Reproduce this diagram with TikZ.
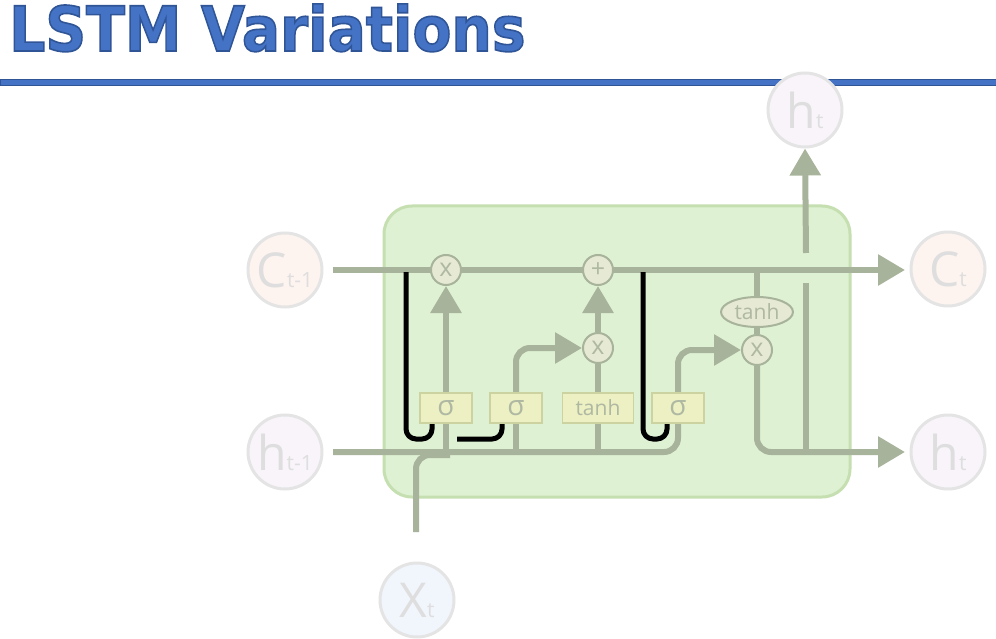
\documentclass[tikz,border=0pt]{standalone}
\usepackage{fontspec}
\setmainfont{Open Sans}
\newfontfamily\titlefont{DejaVu Sans}
\usetikzlibrary{arrows.meta,shapes.geometric}
\pgfdeclarelayer{boxlayer}
\pgfdeclarelayer{linelayer}
\pgfsetlayers{boxlayer,linelayer,main}
\definecolor{lineC}{HTML}{A7B39A}
\definecolor{cellFill}{HTML}{DFF1D3}
\definecolor{cellBorder}{HTML}{C5DFB1}
\definecolor{gateFill}{HTML}{EDF0C2}
\definecolor{gateBorder}{HTML}{CDD3A0}
\definecolor{gateText}{HTML}{AEB8A2}
\definecolor{opFill}{HTML}{E6E9D3}
\definecolor{lblText}{HTML}{DEDEDE}
\definecolor{lblBorder}{HTML}{E4E4E4}
\definecolor{cFill}{HTML}{FDF3EF}
\definecolor{hFill}{HTML}{F8F4FA}
\definecolor{xFill}{HTML}{F1F5FC}
\definecolor{titleBlue}{HTML}{4472C4}
\definecolor{titleDark}{HTML}{2F5597}
\tikzset{
  flow/.style={draw=lineC, line width=6pt},
  arr/.style={flow, -{Triangle[width=30pt,length=27pt]}},
  gatebox/.style={draw=gateBorder, line width=1.5pt, fill=gateFill, minimum height=30pt, inner sep=0pt, text=gateText, font=\fontsize{28}{28}\selectfont},
  opnode/.style={circle, draw=lineC, line width=2pt, fill=opFill, minimum size=30pt, inner sep=0pt, text=gateText, font=\fontsize{25}{25}\selectfont},
  ionode/.style={circle, draw=lblBorder, line width=3pt, minimum size=74pt, inner sep=0pt, text=lblText},
  peep/.style={draw=black, line width=5pt, rounded corners=10pt},
  ttl/.style={anchor=base west, inner sep=0pt, font=\titlefont\bfseries\fontsize{62}{62}\selectfont}
}
\newcommand{\iolbl}[2]{{\fontsize{48}{48}\selectfont #1}{\fontsize{21}{21}\selectfont #2}}
\begin{document}
\begin{tikzpicture}[x=1pt,y=-1pt]
\useasboundingbox (0,0) rectangle (996,639);
% title
\node[ttl, text=titleBlue] (title) at (9,51) {\special{pdf:literal direct 2 Tr 1.6 w 0.184 0.333 0.592 RG}\scalebox{0.915}[1]{LSTM Variations}\special{pdf:literal direct 0 Tr}};
\begin{pgfonlayer}{boxlayer}
\fill[titleBlue, draw=titleDark, line width=1pt] (0,80) rectangle (996,86);
\draw[fill=cellFill, draw=cellBorder, line width=3pt, rounded corners=28pt] (384,206) rectangle (850,497);
\end{pgfonlayer}
% outer nodes
\node[ionode, fill=cFill] (cin) at (285,270) {\iolbl{C}{t-1}};
\node[ionode, fill=hFill] (hin) at (285,452) {\iolbl{h}{t-1}};
\node[ionode, fill=cFill] (cout) at (948,269) {\iolbl{C}{t}};
\node[ionode, fill=hFill] (hout) at (948,452) {\iolbl{h}{t}};
\node[ionode, fill=hFill] (htop) at (805,110) {\iolbl{h}{t}};
\node[ionode, fill=xFill] (xin) at (417,600) {\iolbl{X}{t}};
% gates
\node[gatebox, minimum width=52pt] (g1) at (446,408) {σ};
\node[gatebox, minimum width=52pt] (g2) at (516,408) {σ};
\node[gatebox, minimum width=71pt, font=\fontsize{21}{21}\selectfont] (g3) at (598,408) {tanh};
\node[gatebox, minimum width=52pt] (g4) at (678,408) {σ};
% pointwise ops
\node[opnode] (m1) at (446,270) {x};
\node[opnode] (p1) at (598,270) {+};
\node[opnode] (m2) at (598,348) {x};
\node[opnode] (m3) at (757,350) {x};
\node[ellipse, draw=lineC, line width=2pt, fill=opFill, minimum width=72pt, minimum height=30pt, inner sep=0pt, text=gateText, font=\fontsize{21}{21}\selectfont] (t2) at (757,312) {tanh};
% coordinates
\coordinate (cstart) at (333,270);
\coordinate (cend) at (905,270);
\coordinate (hstart) at (333,452);
\coordinate (hend) at (905,452);
\coordinate (ctap) at (757,270);
\coordinate (xs) at (416,532);
\coordinate (xc) at (416,455);
\coordinate (xm) at (450,455);
\coordinate (jlo) at (806,283);
\coordinate (jbot) at (806,452);
\coordinate (jup) at (806,253);
\coordinate (b1a) at (406,272);
\coordinate (b1b) at (406,439);
\coordinate (b1c) at (432,439);
\coordinate (b1d) at (432,423);
\coordinate (b2a) at (457,439);
\coordinate (b2b) at (502,439);
\coordinate (b2c) at (502,423);
\coordinate (b3a) at (643,272);
\coordinate (b3b) at (643,439);
\coordinate (b3c) at (667,439);
\coordinate (b3d) at (667,423);
\begin{pgfonlayer}{linelayer}
\draw[arr] (cstart) -- (cend);
\draw[flow, rounded corners=14pt] (hstart) -| (g4.south);
\draw[flow, rounded corners=14pt] (xs) -- (xc) -- (xm);
\draw[flow] (g1.south) -- (g1.south |- hstart);
\draw[flow] (g2.south) -- (g2.south |- hstart);
\draw[flow] (g3.south) -- (g3.south |- hstart);
\draw[arr] (g1.north) -- (m1.south);
\draw[arr, rounded corners=14pt] (g2.north) |- (m2.west);
\draw[flow] (g3.north) -- (m2.south);
\draw[arr] (m2.north) -- (p1.south);
\draw[arr, rounded corners=14pt] (g4.north) |- (m3.west);
\draw[flow] (ctap) -- (t2.north);
\draw[flow] (t2.south) -- (m3.north);
\draw[arr, rounded corners=14pt] (m3.south) |- (hend);
\draw[flow] (jlo) -- (jbot);
\draw[arr] (jup) -- (htop.south);
\draw[peep] (b1a) -- (b1b) -- (b1c) -- (b1d);
\draw[peep] (b2a) -- (b2b) -- (b2c);
\draw[peep] (b3a) -- (b3b) -- (b3c) -- (b3d);
\end{pgfonlayer}
\end{tikzpicture}
\end{document}
